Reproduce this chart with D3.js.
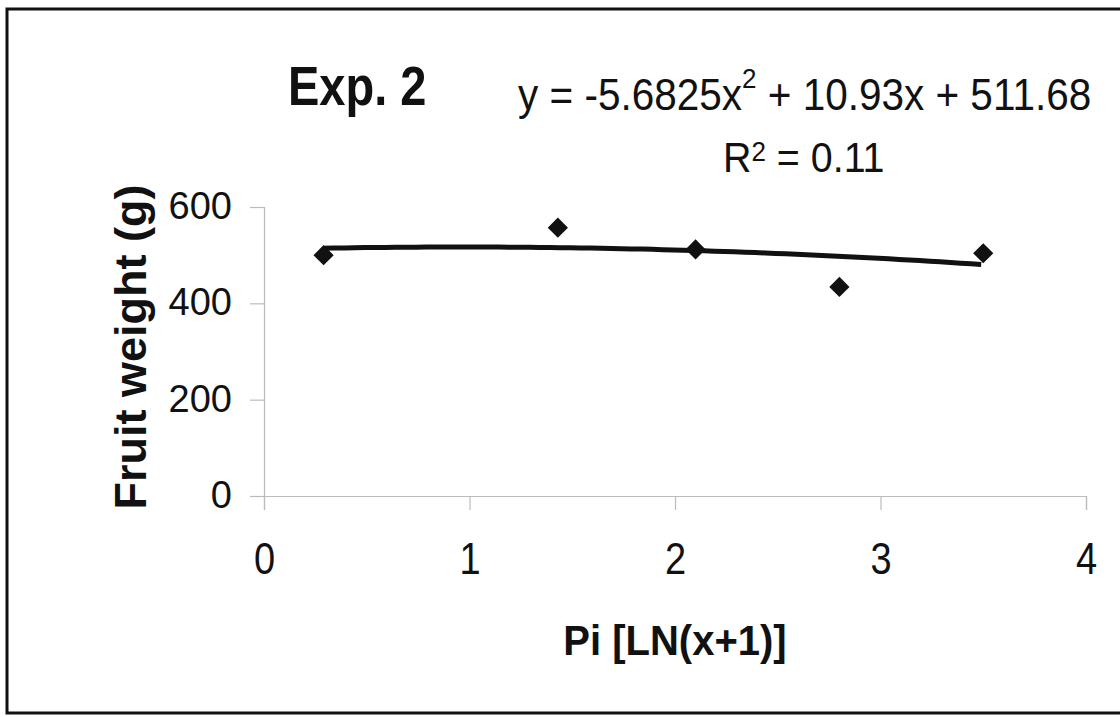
<!DOCTYPE html>
<html>
<head>
<meta charset="utf-8">
<script src="https://cdn.jsdelivr.net/npm/d3@7"></script>
<style>
  body { margin: 0; background: #fff; }
  text { font-family: "Liberation Sans", Arial, sans-serif; fill: #111; }
</style>
</head>
<body>
<script>
// Data
var piValues = [0.29, 1.43, 2.1, 2.8, 3.5];
var fruitWeight = [500, 557, 512, 434, 504];
var xTicks = [0, 1, 2, 3, 4];
var yTicks = [0, 200, 400, 600];
// trend line coefficients as printed on the chart (a*x^2 + b*x + c)
var trendCoef = [-5.6825, 10.93, 511.68];

var svgWidth = 1120;
var svgHeight = 717;

var margin = { top: 207, right: 34, bottom: 221, left: 264 };
var width = svgWidth - margin.left - margin.right;
var height = svgHeight - margin.top - margin.bottom;

var svg = d3.select("body")
  .append("svg")
  .attr("width", svgWidth)
  .attr("height", svgHeight);

// outer frame
svg.append("rect")
  .attr("x", 7).attr("y", 9)
  .attr("width", 1130).attr("height", 704)
  .attr("fill", "none")
  .attr("stroke", "#111")
  .attr("stroke-width", 3);

var chartGroup = svg.append("g")
  .attr("transform", `translate(${margin.left}, ${margin.top})`);

var x = d3.scaleLinear().domain([0, 4]).range([0, width]);
var y = d3.scaleLinear().domain([0, 600]).range([height, 0]);

// axes
var xAxis = chartGroup.append("g")
  .attr("transform", `translate(0, ${height})`)
  .call(d3.axisBottom(x).tickValues(xTicks).tickSize(14).tickFormat(d3.format("d")));

var yAxis = chartGroup.append("g")
  .call(d3.axisLeft(y).tickValues(yTicks).tickSize(14).tickPadding(18).tickFormat(d3.format("d")));

[xAxis, yAxis].forEach(function(ax) {
  ax.select(".domain").attr("stroke", "#bbb").attr("stroke-width", 1.2);
  ax.selectAll(".tick line").attr("stroke", "#bbb").attr("stroke-width", 1.2);
  ax.selectAll(".tick text")
    .style("font-family", "'Liberation Sans', Arial, sans-serif")
    .style("font-size", "38px")
    .attr("fill", "#111");
});
yAxis.selectAll(".tick text").attr("dy", "0.3em");
// x tick labels are a bit taller in the original
xAxis.selectAll(".tick text")
  .attr("y", 0).attr("dy", 0)
  .attr("transform", "translate(0, 78) scale(1, 1.17)");

// trend line from the printed equation
var trendX = d3.range(piValues[0], d3.max(piValues) + 0.001, 0.05);
var trendLine = d3.line()
  .x(d => x(d))
  .y(d => y(trendCoef[0] * d * d + trendCoef[1] * d + trendCoef[2]));

chartGroup.append("path")
  .datum(trendX)
  .attr("d", trendLine)
  .attr("fill", "none")
  .attr("stroke", "#111")
  .attr("stroke-width", 5);

// diamond markers
var pts = piValues.map((v, i) => ({ x: v, y: fruitWeight[i] }));
chartGroup.selectAll(".pt")
  .data(pts)
  .enter()
  .append("path")
  .attr("class", "pt")
  .attr("transform", d => `translate(${x(d.x)}, ${y(d.y)})`)
  .attr("d", d3.symbol().type(d3.symbolDiamond2).size(260))
  .attr("fill", "#111");

// texts
svg.append("text")
  .attr("transform", "translate(288, 105) scale(1, 1.19)")
  .style("font-size", "47px")
  .style("font-weight", "bold")
  .text("Exp. 2");

var eq = svg.append("text")
  .attr("transform", "translate(518, 110) scale(1, 1.09)")
  .style("font-size", "40.5px");
eq.append("tspan").text("y = -5.6825x");
eq.append("tspan").attr("dy", -20).style("font-size", "26px").text("2");
eq.append("tspan").attr("dy", 20).text(" + 10.93x + 511.68");

var r2 = svg.append("text")
  .attr("transform", "translate(723, 172) scale(1, 1.06)")
  .style("font-size", "39.4px");
r2.append("tspan").text("R");
r2.append("tspan").attr("dy", -10).style("font-size", "26px").text("2");
r2.append("tspan").attr("dy", 10).text(" = 0.11");

svg.append("text")
  .attr("transform", "translate(146, 347) rotate(-90)")
  .attr("text-anchor", "middle")
  .style("font-size", "45px")
  .style("font-weight", "bold")
  .text("Fruit weight (g)");

svg.append("text")
  .attr("transform", "translate(675, 655) scale(1, 1.05)")
  .attr("text-anchor", "middle")
  .style("font-size", "40px")
  .style("font-weight", "bold")
  .text("Pi [LN(x+1)]");
</script>
</body>
</html>
